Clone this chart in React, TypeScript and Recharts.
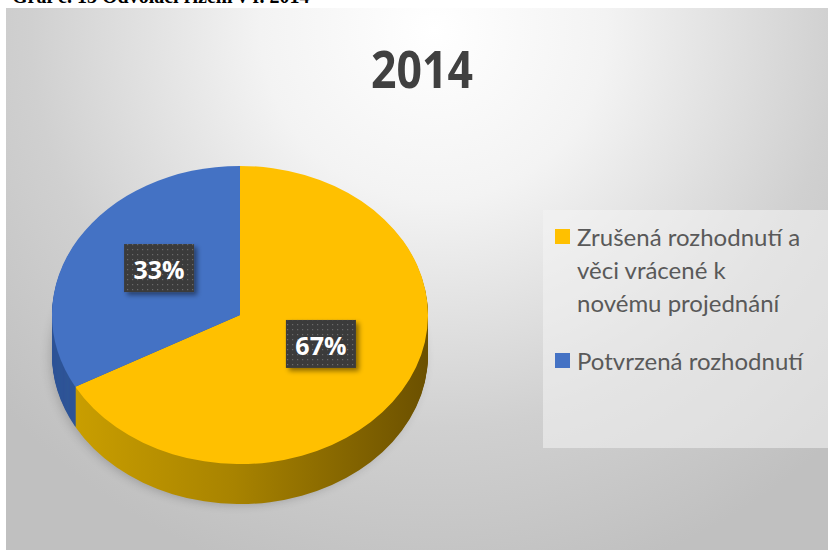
import { Cell, Legend, Pie, PieChart } from "recharts"

const categories = ["Zrušená rozhodnutí a věci vrácené k novému projednání", "Potvrzená rozhodnutí"]
const shares = [67, 33]
const topColors = ["#FFC000", "#4472C4"]
const sideColors = ["url(#sideGold)", "#2F5597"]

const data = categories.map((name, i) => ({ name, value: shares[i] }))

// pie geometry (chart coords, chart area starts at page x=6, y=8)
const CX = 229
const CY = 303
const R = 188
const TILT = 0.793
const DEPTH = 40
const depthSteps = Array.from({ length: DEPTH }, (_, i) => DEPTH - i)

function renderShareLabel(props: any) {
  const { cx, cy, midAngle, outerRadius, percent } = props
  const rad = (midAngle * Math.PI) / 180
  const x = cx + outerRadius * 0.5 * Math.cos(rad)
  const y = cy - outerRadius * TILT * 0.5 * Math.sin(rad) - 10
  return (
    <g>
      <g filter="url(#labelShadow)">
        <rect x={x - 35} y={y - 24} width={70} height={48} fill="#3b3b3b" />
      </g>
      <rect x={x - 35} y={y - 24} width={70} height={48} fill="url(#dots)" />
      <text
        x={x}
        y={y + 1}
        textAnchor="middle"
        dominantBaseline="central"
        fill="#ffffff"
        fontFamily="Open Sans"
        fontWeight={700}
        fontSize={25}
      >
        {`${Math.round(percent * 100)}%`}
      </text>
    </g>
  )
}

function renderLegend() {
  return (
    <div style={{ padding: "10px 0 0 12px", fontFamily: "Lato", fontSize: 24, color: "#595959" }}>
      {categories.map((name, i) => (
        <div key={name} style={{ display: "flex", alignItems: "flex-start", marginBottom: 25 }}>
          <span
            style={{
              display: "inline-block",
              width: 15,
              height: 15,
              marginTop: 9,
              marginRight: 7,
              flex: "0 0 auto",
              background: topColors[i],
            }}
          />
          <span style={{ lineHeight: "33px", width: 232 }}>{name}</span>
        </div>
      ))}
    </div>
  )
}

export default function App() {
  return (
    <div style={{ position: "absolute", left: 0, top: 0, width: 828, height: 550, overflow: "hidden", background: "#fff" }}>
      <div
        style={{
          position: "absolute",
          left: 12,
          top: -14,
          fontFamily: "Liberation Serif",
          fontWeight: 700,
          fontSize: 20,
          lineHeight: "20px",
          whiteSpace: "nowrap",
          color: "#000",
        }}
      >
        Graf č. 13 Odvolací řízení v r. 2014
      </div>
      <div
        style={{
          position: "absolute",
          left: 6,
          top: 8,
          width: 822,
          height: 542,
          overflow: "hidden",
          background: "radial-gradient(ellipse 70% 105% at 52% 4%, #ffffff 0%, #f3f3f3 30%, #d0d0d0 70%, #c0c0c0 100%)",
        }}
      >
        {/* pie body, squashed vertically to get the tilted look */}
        <div
          style={{
            position: "absolute",
            left: 0,
            top: 0,
            transform: `scaleY(${TILT})`,
            transformOrigin: `0 ${CY}px`,
          }}
        >
          <PieChart width={822} height={620}>
            <defs>
              <linearGradient id="sideGold" x1="0" y1="0" x2="1" y2="0">
                <stop offset="0%" stopColor="#C99E00" />
                <stop offset="45%" stopColor="#A88300" />
                <stop offset="100%" stopColor="#6B5000" />
              </linearGradient>
              <filter id="pieShadow" x="-20%" y="-20%" width="140%" height="140%">
                <feGaussianBlur stdDeviation="6" />
              </filter>
            </defs>
            <ellipse
              cx={CX + 2}
              cy={CY + (DEPTH + 5) / TILT}
              rx={R - 2}
              ry={R}
              fill="#000"
              opacity={0.2}
              filter="url(#pieShadow)"
            />
            {depthSteps.map((d) => (
              <Pie
                key={`side-${d}`}
                data={data}
                dataKey="value"
                nameKey="name"
                cx={CX}
                cy={CY + d / TILT}
                outerRadius={R}
                startAngle={90}
                endAngle={-270}
                stroke="none"
                legendType="none"
                isAnimationActive={false}
              >
                {data.map((entry, i) => (
                  <Cell key={entry.name} fill={sideColors[i]} />
                ))}
              </Pie>
            ))}
            <Pie
              data={data}
              dataKey="value"
              nameKey="name"
              cx={CX}
              cy={CY}
              outerRadius={R}
              startAngle={90}
              endAngle={-270}
              stroke="none"
              isAnimationActive={false}
            >
              {data.map((entry, i) => (
                <Cell key={entry.name} fill={topColors[i]} />
              ))}
            </Pie>
          </PieChart>
        </div>
        {/* overlay: title, value labels, legend */}
        <div style={{ position: "absolute", left: 0, top: 0 }}>
          <PieChart width={822} height={542}>
            <defs>
              <pattern id="dots" width="5" height="5" patternUnits="userSpaceOnUse">
                <rect x="1" y="1" width="1.2" height="1.2" fill="#6a6a6a" />
              </pattern>
              <filter id="labelShadow" x="-30%" y="-30%" width="160%" height="160%">
                <feDropShadow dx="3" dy="3" stdDeviation="2.5" floodColor="#000" floodOpacity="0.45" />
              </filter>
            </defs>
            <text
              x={416}
              y={80}
              textAnchor="middle"
              fill="#404040"
              fontFamily="Open Sans"
              fontWeight={700}
              fontSize={52}
              textLength={102}
              lengthAdjust="spacingAndGlyphs"
            >
              2014
            </text>
            <Pie
              data={data}
              dataKey="value"
              nameKey="name"
              cx={CX}
              cy={CY}
              outerRadius={R}
              startAngle={90}
              endAngle={-270}
              fill="none"
              stroke="none"
              legendType="none"
              labelLine={false}
              label={renderShareLabel}
              isAnimationActive={false}
            />
            <Legend
              content={renderLegend}
              wrapperStyle={{
                position: "absolute",
                left: 537,
                top: 202,
                width: 300,
                height: 238,
                background: "rgba(244,244,244,0.55)",
              }}
            />
          </PieChart>
        </div>
      </div>
    </div>
  )
}
